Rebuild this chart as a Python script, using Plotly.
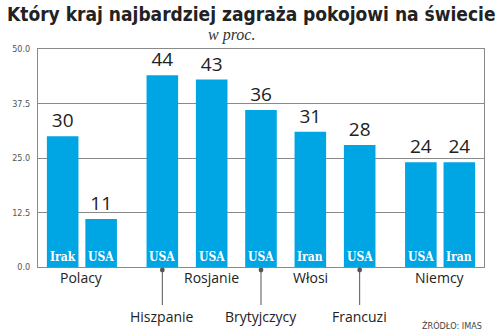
import plotly.graph_objects as go

# ---- data ----
nations = ["Polacy", "Hiszpanie", "Rosjanie", "Brytyjczycy", "Włosi", "Francuzi", "Niemcy"]
targets = [["Irak", "USA"], ["USA"], ["USA"], ["USA"], ["Iran"], ["USA"], ["USA", "Iran"]]
values = [[30, 11], [44], [43], [36], [31], [28], [24, 24]]
label_row = [0, 1, 0, 1, 0, 1, 0]  # 0 = label just below axis, 1 = lower label with pointer
y_ticks = [0, 12.5, 25, 37.5, 50]

title = "Który kraj najbardziej zagraża pokojowi na świecie"
subtitle = "w proc."
source = "ŹRÓDŁO: IMAS"

# ---- style / layout constants ----
BLUE = "#00a5e3"
GRID = "#8a8a8a"
BAR_W = 32
IN_GAP = 7
GAP_SINGLE = 18
GAP_MULTI = 30
START = 9

# compute bar slots from group structure
xs, ys, txt, grp_centers = [], [], [], []
pos = START + BAR_W / 2
prev_multi = None
for gi, (t, v) in enumerate(zip(targets, values)):
    multi = len(t) > 1
    if gi > 0:
        gap = GAP_MULTI if (multi or prev_multi) else GAP_SINGLE
        pos += BAR_W + gap
    centers = []
    for k, (tt, vv) in enumerate(zip(t, v)):
        if k > 0:
            pos += BAR_W + IN_GAP
        xs.append(pos)
        ys.append(vv)
        txt.append(tt)
        centers.append(pos)
    grp_centers.append(sum(centers) / len(centers))
    prev_multi = multi

fig = go.Figure()
fig.add_trace(go.Bar(
    x=xs, y=ys, width=BAR_W,
    marker=dict(color=BLUE, line=dict(width=0)),
    text=[str(v) for v in ys], textposition="outside",
    textfont=dict(family="Open Sans", size=19, color="#222", weight=500),
    cliponaxis=False, hoverinfo="skip",
))

annotations = []
for x, t in zip(xs, txt):
    annotations.append(dict(
        x=x, y=0, xref="x", yref="y", text=t, showarrow=False,
        yanchor="bottom", yshift=1,
        font=dict(family="DejaVu Serif Condensed, DejaVu Serif", size=12,
                  color="white", weight="bold"),
    ))

for name, cx, row in zip(nations, grp_centers, label_row):
    if row == 0:
        annotations.append(dict(
            x=cx, y=0, xref="x", yref="y", text=name, showarrow=False,
            yanchor="top", yshift=1,
            font=dict(family="Open Sans", size=14, color="#222"),
        ))
    else:
        annotations.append(dict(
            x=cx, y=0, xref="x", yref="y", text=name, showarrow=True,
            ax=0, ay=46, arrowhead=6, arrowsize=1.2, arrowwidth=1,
            arrowcolor="#555", yshift=-3, standoff=0,
            font=dict(family="Open Sans", size=14, color="#222"),
        ))

def px_x(p):
    return (p - 32) / (484 - 32)
def px_y(p):
    return (267 - p) / (267 - 49)

annotations.append(dict(
    x=px_x(248), y=px_y(14), xref="paper", yref="paper",
    text=title, showarrow=False, xanchor="center", yanchor="middle",
    font=dict(family="Liberation Sans Narrow, DejaVu Sans Condensed, sans-serif",
              size=19, color="#222", weight="bold"),
))
annotations.append(dict(
    x=px_x(228), y=px_y(35), xref="paper", yref="paper",
    text=subtitle, showarrow=False, xanchor="center", yanchor="middle",
    font=dict(family="Liberation Serif", size=16, color="#333", style="italic"),
))
annotations.append(dict(
    x=px_x(484), y=px_y(325), xref="paper", yref="paper",
    text=source, showarrow=False, xanchor="right", yanchor="middle",
    font=dict(family="DejaVu Sans Condensed", size=9, color="#444"),
))

fig.update_layout(
    width=500, height=332,
    margin=dict(l=32, r=16, t=49, b=65),
    paper_bgcolor="white", plot_bgcolor="white",
    showlegend=False,
    annotations=annotations,
    xaxis=dict(range=[0, 452], showgrid=False, zeroline=False,
               showticklabels=False, showline=True, mirror=True,
               linecolor=GRID, linewidth=1, fixedrange=True),
    yaxis=dict(range=[0, 50], tickvals=y_ticks, tickformat=".1f",
               showgrid=True, gridcolor=GRID, gridwidth=1,
               zeroline=False, showline=True, mirror=True,
               linecolor=GRID, linewidth=1,
               ticklabelstandoff=5,
               tickfont=dict(family="DejaVu Sans Condensed", size=9, color="#555")),
)

fig.write_html("out.html")
